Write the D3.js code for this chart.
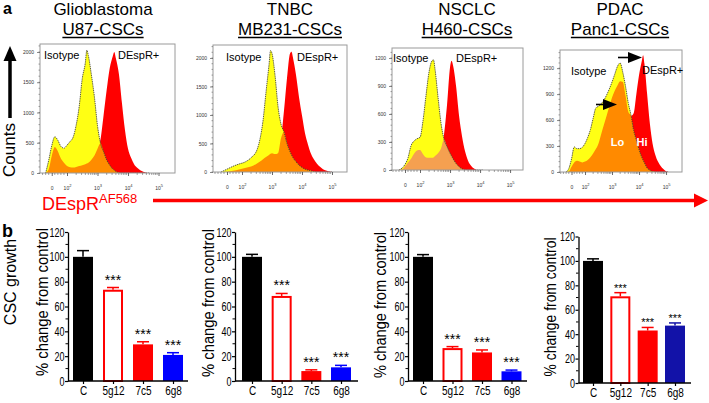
<!DOCTYPE html>
<html><head><meta charset="utf-8">
<script src="https://cdn.jsdelivr.net/npm/d3@7"></script>
<style>body{margin:0;background:#fff}svg{display:block}</style>
</head><body>
<svg id="c" width="709" height="403"></svg>
<script>
// ---------------- DATA ----------------
const histTitles = ["Glioblastoma", "TNBC", "NSCLC", "PDAC"];
const histSubtitles = ["U87-CSCs", "MB231-CSCs", "H460-CSCs", "Panc1-CSCs"];
const histLegendIso = "Isotype";
const histLegendDesp = "DEspR+";

// x in display decades (biexponential axis), counts per channel
const histX1 = [1.3,1.4,1.5,1.6,1.7,1.8,1.9,2.0,2.1,2.2,2.3,2.4,2.5,2.6,2.65,2.7,2.8,2.9,3.0,3.1,3.2,3.3,3.4,3.5,3.55,3.6,3.7,3.8,3.9,4.0,4.1,4.2,4.3,4.4,4.5,4.6,4.7];
const iso1  = [0,210,450,600,540,440,410,460,520,590,790,1100,1560,1820,2030,1940,1620,1250,780,490,350,215,130,65,45,25,5,0,0,0,0,0,0,0,0,0,0];
const desp1 = [0,60,280,430,360,240,170,115,95,90,100,115,128,145,155,170,220,290,400,560,960,1370,1730,1930,2000,1900,1640,1160,710,400,250,145,85,45,20,5,0];

const histX2 = [1.3,1.5,1.7,1.9,2.1,2.3,2.5,2.6,2.7,2.8,2.9,2.95,3.0,3.1,3.2,3.3,3.4,3.5,3.6,3.65,3.7,3.8,3.9,4.0,4.1,4.2,4.3,4.4,4.5,4.6,4.7,4.8,5.0];
const iso2  = [0,50,100,140,175,250,390,580,900,1400,1880,2130,2080,1700,1150,840,700,500,356,300,250,180,120,80,50,35,20,5,0,0,0,0,0];
const desp2 = [0,5,20,45,70,95,150,185,225,265,300,320,330,315,330,590,1080,1650,2080,2110,2000,1700,1310,990,680,480,320,220,145,90,50,25,0];

const histX3 = [1.3,1.4,1.5,1.6,1.7,1.8,1.9,2.0,2.1,2.2,2.3,2.4,2.45,2.5,2.6,2.7,2.8,2.9,3.0,3.05,3.1,3.2,3.3,3.4,3.5,3.6,3.7,3.8,3.9,4.0,4.1];
const iso3  = [0,20,60,130,260,310,335,350,530,800,1050,1170,1180,1080,780,500,330,250,180,150,120,70,35,12,0,0,0,0,0,0,0];
const desp3 = [0,5,40,80,120,175,210,215,170,135,130,130,135,150,180,230,380,700,1100,1170,1120,900,580,360,200,100,45,15,0,0,0];

const histX4 = [1.3,1.4,1.5,1.6,1.7,1.8,1.9,2.0,2.1,2.2,2.3,2.4,2.5,2.6,2.7,2.8,2.9,3.0,3.1,3.2,3.3,3.4,3.5,3.6,3.7,3.8,3.9,4.0,4.1,4.15,4.2,4.3,4.4,4.5,4.6,4.7,4.8,4.9,5.0,5.1];
const iso4  = [0,40,150,290,270,270,285,330,400,490,620,740,760,790,830,890,960,1040,1130,1220,1260,1150,990,800,660,480,370,260,170,135,105,45,20,5,0,0,0,0,0,0];
const desp4 = [0,5,60,110,130,120,110,120,140,170,215,265,330,440,545,650,760,860,940,1000,1050,1040,880,700,650,680,900,1120,1280,1350,1250,900,560,330,200,120,70,35,10,0];

const histYTicksA = [0,500,1000,1500,2000];
const histYTicksB = [0,300,600,900,1200];
const histXTickPos = [1.5,2,3,4,5];
const histXTickBase = ["0","10","10","10","10"];
const histXTickExp  = ["","2","3","4","5"];

const barCategories = ["C","5g12","7c5","6g8"];
const barValues1 = [100,73.5,29.5,21];
const barErr1    = [5,1.8,2.1,1.8];
const barValues2 = [100,68.5,8,11];
const barErr2    = [2,2,1,1.6];
const barValues3 = [100,26.5,23,7.8];
const barErr3    = [1.8,1.2,2,1];
const barValues4 = [100,71,43,47];
const barErr4    = [1.7,3,2.5,2.2];
const barSig     = ["","***","***","***"];
const barYTicks  = [0,20,40,60,80,100,120];
const barYLabel  = "% change from control";

// ---------------- LAYOUT / STYLE ----------------
const F = "'Liberation Sans', Arial, sans-serif";
const RED = "#ff0000", YEL = "#ffff14", ORA = "#ff8c00";
const svg = d3.select("#c");
function narrow(sel, f){
  sel.each(function(){
    const L = this.getComputedTextLength();
    d3.select(this).attr("textLength", L*f).attr("lengthAdjust","spacingAndGlyphs");
  });
}

const histLayout = [
  {L:40, R:175, T:44, B:173, u0:1.115, u1:5.54, ymax:2132, ticks:histYTicksA, tx:103, isoX:44, isoY:59, despX:118, despY:59, ora:ORA},
  {L:213, R:347, T:45, B:172, u0:1.033, u1:5.5, ymax:2228, ticks:histYTicksA, tx:290, isoX:226, isoY:61, despX:297, despY:61, ora:ORA},
  {L:392, R:523, T:48, B:170, u0:1.067, u1:5.43, ymax:1307, ticks:histYTicksB, tx:467, isoX:393, isoY:62, despX:456, despY:62, ora:"#f5a050"},
  {L:560, R:682, T:50, B:172, u0:1.074, u1:5.59, ymax:1410, ticks:histYTicksB, tx:620, isoX:571, isoY:75, despX:642, despY:74, ora:"#ff8a00"}
];
const histData = [
  {x:histX1, iso:iso1, desp:desp1},
  {x:histX2, iso:iso2, desp:desp2},
  {x:histX3, iso:iso3, desp:desp3},
  {x:histX4, iso:iso4, desp:desp4}
];

// panel letters
svg.append("text").attr("x",3).attr("y",14).attr("font-family",F).attr("font-weight","bold").attr("font-size",16).text("a");
svg.append("text").attr("x",2).attr("y",237).attr("font-family",F).attr("font-weight","bold").attr("font-size",18).text("b");

// Counts arrow
svg.append("line").attr("x1",10).attr("x2",10).attr("y1",58).attr("y2",118).attr("stroke","#000").attr("stroke-width",3.5);
svg.append("path").attr("d","M3.5,61 L10,46 L16.5,61 Z").attr("fill","#000");
svg.append("text").attr("transform","translate(15,150) rotate(-90)").attr("text-anchor","middle")
  .attr("font-family",F).attr("font-size",17).text("Counts");

histLayout.forEach((c,i)=>{
  const d = histData[i];
  const x = d3.scaleLinear().domain([c.u0,c.u1]).range([c.L,c.R]);
  const y = d3.scaleLinear().domain([0,c.ymax]).range([c.B,c.T]);
  const rows = d.x.map((u,j)=>({u, iso:d.iso[j], desp:d.desp[j]}));
  const g = svg.append("g");
  const clipId = "clip"+i;
  svg.append("clipPath").attr("id",clipId).append("rect").attr("x",c.L).attr("y",c.T).attr("width",c.R-c.L).attr("height",c.B-c.T);
  const gc = g.append("g").attr("clip-path",`url(#${clipId})`);
  const area = f => d3.area().x(r=>x(r.u)).y0(y(0)).y1(r=>y(f(r))).curve(d3.curveMonotoneX);
  gc.append("path").attr("d",area(r=>r.desp)(rows)).attr("fill",RED);
  gc.append("path").attr("d",area(r=>r.iso)(rows)).attr("fill",YEL);
  gc.append("path").attr("d",area(r=>Math.min(r.iso,r.desp))(rows)).attr("fill",c.ora);
  gc.append("path").attr("d",d3.line().x(r=>x(r.u)).y(r=>y(r.iso)).curve(d3.curveMonotoneX)(rows))
    .attr("fill","none").attr("stroke","#333").attr("stroke-width",0.8).attr("stroke-dasharray","1.4,0.8");
  // frame
  g.append("rect").attr("x",c.L).attr("y",c.T).attr("width",c.R-c.L).attr("height",c.B-c.T)
    .attr("fill","none").attr("stroke","#9a9a9a").attr("stroke-width",1);
  // y axis
  const step = c.ticks[1]-c.ticks[0];
  const minor = d3.range(0, c.ymax, step/5);
  const ya = g.append("g").attr("transform",`translate(${c.L},0)`);
  ya.selectAll("line.mn").data(minor).join("line").attr("x1",0).attr("x2",-1.5).attr("y1",v=>y(v)).attr("y2",v=>y(v)).attr("stroke","#666").attr("stroke-width",0.6);
  ya.call(d3.axisLeft(y).tickValues(c.ticks).tickSize(3).tickPadding(3).tickFormat(d3.format("d")));
  ya.select(".domain").remove();
  ya.selectAll(".tick line").attr("stroke","#555").attr("stroke-width",0.7);
  ya.selectAll(".tick text").attr("font-size",5).attr("font-family",F).attr("fill","#333");
  // x axis
  const minorX = [];
  [2,3,4].forEach(dd=>{for(let k=2;k<10;k++){const v=dd+Math.log10(k); if(v>c.u0 && v<c.u1) minorX.push(v);}});
  [1.1,1.2,1.3,1.4,1.6,1.7,1.8,1.9].forEach(v=>{ if(v>c.u0) minorX.push(v); });
  const xa = g.append("g").attr("transform",`translate(0,${c.B})`);
  xa.selectAll("line.mn").data(minorX).join("line").attr("x1",v=>x(v)).attr("x2",v=>x(v)).attr("y1",0).attr("y2",2).attr("stroke","#666").attr("stroke-width",0.6);
  xa.call(d3.axisBottom(x).tickValues(histXTickPos).tickSize(3).tickPadding(10).tickFormat(""));
  xa.select(".domain").remove();
  xa.selectAll(".tick line").attr("stroke","#444").attr("stroke-width",0.8);
  xa.selectAll(".tick text").attr("font-size",5).attr("font-family",F).attr("fill","#333").each(function(v,k){
    const t = d3.select(this);
    t.append("tspan").text(histXTickBase[k]);
    if(histXTickExp[k]) t.append("tspan").attr("dy",-2.5).attr("font-size",4).text(histXTickExp[k]);
  });
  // legends
  g.append("text").attr("x",c.isoX).attr("y",c.isoY).attr("font-family",F).attr("font-size",11).text(histLegendIso);
  g.append("text").attr("x",c.despX).attr("y",c.despY).attr("font-family",F).attr("font-size",11).text(histLegendDesp);
  // titles
  svg.append("text").attr("x",c.tx).attr("y",15).attr("text-anchor","middle").attr("font-family",F).attr("font-size",17).text(histTitles[i]);
  const st = svg.append("text").attr("x",c.tx).attr("y",34.5).attr("text-anchor","middle").attr("font-family",F).attr("font-size",17).text(histSubtitles[i]);
  const w = st.node().getComputedTextLength();
  svg.append("line").attr("x1",c.tx-w/2).attr("x2",c.tx+w/2).attr("y1",37.5).attr("y2",37.5).attr("stroke","#000").attr("stroke-width",1.3);
});

// PDAC arrows and Lo / Hi
function arrow(x1, x2, yy, hl, hh){
  svg.append("line").attr("x1",x1).attr("x2",x2-hl+1).attr("y1",yy).attr("y2",yy).attr("stroke","#000").attr("stroke-width",1.6);
  svg.append("path").attr("d",`M${x2-hl},${yy-hh/2} L${x2},${yy} L${x2-hl},${yy+hh/2} Z`).attr("fill","#000");
}
arrow(618, 642, 57.5, 14, 11);
arrow(596, 617, 104.5, 14, 11);
svg.append("text").attr("x",617.5).attr("y",146).attr("text-anchor","middle").attr("font-family",F).attr("font-weight","bold").attr("font-size",11).attr("fill","#fff").text("Lo");
svg.append("text").attr("x",642).attr("y",146).attr("text-anchor","middle").attr("font-family",F).attr("font-weight","bold").attr("font-size",11).attr("fill","#fff").text("Hi");

// DEspR AF568 red axis arrow
const dt = svg.append("text").attr("x",42).attr("y",210).attr("font-family",F).attr("font-size",18).attr("fill",RED);
dt.append("tspan").text("DEspR");
dt.append("tspan").attr("dy",-7).attr("font-size",13).text("AF568");
svg.append("line").attr("x1",153).attr("x2",696).attr("y1",200.5).attr("y2",200.5).attr("stroke",RED).attr("stroke-width",3.5);
svg.append("path").attr("d","M694,193.5 L708,200.5 L694,207.5 Z").attr("fill",RED);

// CSC growth
svg.append("text").attr("transform","translate(16,282) rotate(-90)").attr("text-anchor","middle")
  .attr("font-family",F).attr("font-size",16).text("CSC growth");

// ---------------- BAR CHARTS ----------------
const barLayout = [
  {ax:68,  y0:381, y120:232, c0:83,  c3:173, xEnd:188, lx:47.5, ly:302, sig:14, sigOff:3, blue:"#0000ff", llen:148},
  {ax:235, y0:381, y120:232, c0:252, c3:341, xEnd:358, lx:214, ly:303, sig:14, sigOff:3, blue:"#0000ff", llen:148},
  {ax:408, y0:381, y120:232, c0:423, c3:511.5, xEnd:527, lx:386, ly:305, sig:14, sigOff:3, blue:"#0000ff", llen:146},
  {ax:578.5, y0:383, y120:236.5, c0:593, c3:675, xEnd:691, lx:556, ly:307, sig:11, sigOff:1, blue:"#1212a8", llen:139}
];
const barSets = [[barValues1,barErr1],[barValues2,barErr2],[barValues3,barErr3],[barValues4,barErr4]];
const BW = 20;

barLayout.forEach((c,i)=>{
  const [vals, errs] = barSets[i];
  const barFill = ["#000", "#fff", "#ff0000", c.blue];
  const barStroke = ["#000", "#ff0000", "#ff0000", c.blue];
  const y = d3.scaleLinear().domain([0,120]).range([c.y0,c.y120]);
  const x = d3.scalePoint().domain(barCategories).range([c.c0,c.c3]);
  const g = svg.append("g");
  const rows = barCategories.map((k,j)=>({k, v:vals[j], e:errs[j], j}));
  // error bars
  g.selectAll("line.eb").data(rows).join("line").attr("x1",r=>x(r.k)).attr("x2",r=>x(r.k))
    .attr("y1",r=>y(r.v)).attr("y2",r=>y(r.v+r.e)).attr("stroke",r=>barStroke[r.j]).attr("stroke-width",1.5);
  g.selectAll("line.cap").data(rows).join("line").attr("x1",r=>x(r.k)-6).attr("x2",r=>x(r.k)+6)
    .attr("y1",r=>y(r.v+r.e)).attr("y2",r=>y(r.v+r.e)).attr("stroke",r=>barStroke[r.j]).attr("stroke-width",1.5);
  // bars
  g.selectAll("rect").data(rows).join("rect")
    .attr("x",r=>x(r.k)-BW/2+(r.j===1?1:0)).attr("width",r=>BW-(r.j===1?2:0))
    .attr("y",r=>y(r.v)+(r.j===1?1:0)).attr("height",r=>y(0)-y(r.v)-(r.j===1?1:0))
    .attr("fill",r=>barFill[r.j]).attr("stroke",r=>r.j===1?barStroke[r.j]:"none").attr("stroke-width",2);
  // significance
  g.selectAll("text.sig").data(rows).join("text").attr("x",r=>x(r.k)).attr("y",r=>y(r.v+r.e)-c.sigOff)
    .attr("text-anchor","middle").attr("font-family",F).attr("font-size",c.sig).text(r=>barSig[r.j]);
  // y axis
  const ya = g.append("g").attr("transform",`translate(${c.ax},0)`);
  ya.selectAll("line.mn").data(d3.range(10,120,20)).join("line").attr("x1",0).attr("x2",-2.5).attr("y1",v=>y(v)).attr("y2",v=>y(v)).attr("stroke","#000").attr("stroke-width",1);
  ya.call(d3.axisLeft(y).tickValues(barYTicks).tickSize(3).tickPadding(0.5).tickSizeOuter(0));
  ya.selectAll(".domain").attr("stroke-width",1.3);
  ya.selectAll(".tick line").attr("stroke-width",1.2);
  ya.selectAll(".tick text").attr("font-family",F).attr("font-size",12.5).attr("fill","#000").call(narrow,0.72);
  // x axis
  g.append("line").attr("x1",c.ax).attr("x2",c.xEnd).attr("y1",c.y0).attr("y2",c.y0).attr("stroke","#000").attr("stroke-width",1.3);
  const xa = g.append("g").attr("transform",`translate(0,${c.y0})`);
  xa.call(d3.axisBottom(x).tickSize(3).tickPadding(2));
  xa.select(".domain").remove();
  xa.selectAll(".tick line").attr("stroke-width",1.2);
  xa.selectAll(".tick text").attr("font-family",F).attr("font-size",12.5).attr("fill","#000").call(narrow,0.8);
  // y label
  svg.append("text").attr("transform",`translate(${c.lx},${c.ly}) rotate(-90)`).attr("text-anchor","middle")
    .attr("font-family",F).attr("font-size",16).attr("textLength",c.llen).attr("lengthAdjust","spacingAndGlyphs").text(barYLabel);
});
</script>
</body></html>
